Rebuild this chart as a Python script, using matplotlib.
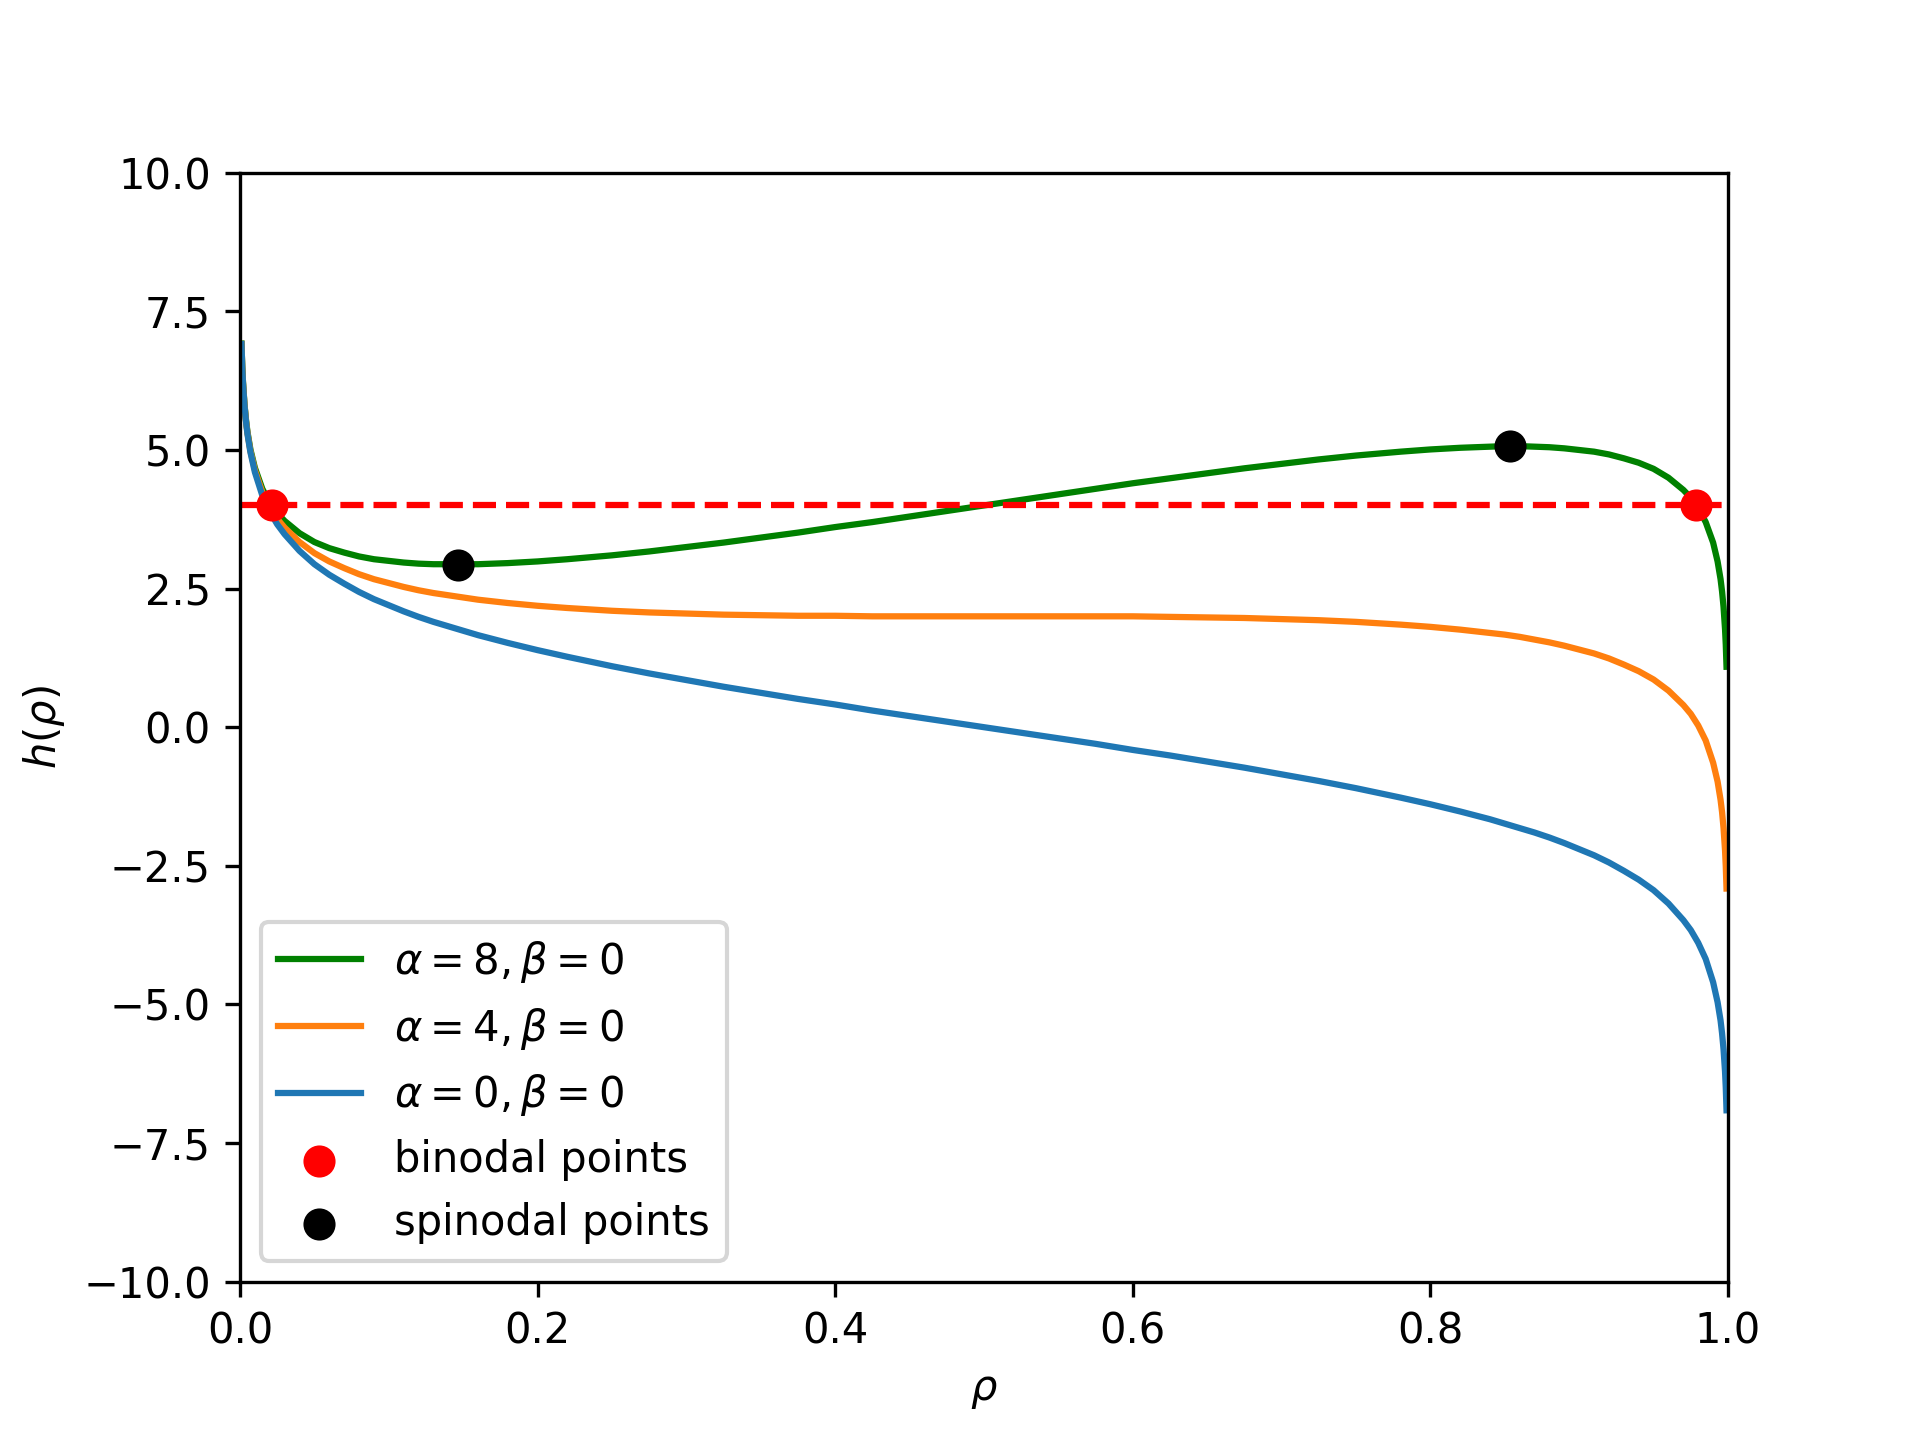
import numpy as np
import matplotlib.pyplot as plt

# valeurs
rho = [0.001, 0.0015, 0.002, 0.003, 0.004, 0.005, 0.007, 0.01, 0.015, 0.02,
       0.025, 0.03, 0.04, 0.05, 0.06, 0.07, 0.08, 0.09, 0.1, 0.11, 0.12,
       0.13, 0.14, 0.15, 0.16, 0.18, 0.2, 0.22, 0.25, 0.275, 0.3, 0.325,
       0.35, 0.375, 0.4, 0.425, 0.45, 0.475, 0.5, 0.525, 0.55, 0.575, 0.6,
       0.625, 0.65, 0.675, 0.7, 0.725, 0.75, 0.78, 0.8, 0.82, 0.84, 0.85,
       0.86, 0.87, 0.88, 0.89, 0.9, 0.91, 0.92, 0.93, 0.94, 0.95, 0.96,
       0.97, 0.975, 0.98, 0.985, 0.99, 0.993, 0.995, 0.996, 0.997, 0.998,
       0.9985, 0.999]

h_a8 = [6.92, 6.51, 6.23, 5.83, 5.55, 5.33, 5.01, 4.68, 4.30, 4.05,
        3.86, 3.72, 3.50, 3.34, 3.23, 3.15, 3.08, 3.03, 3.00, 2.97, 2.95,
        2.94, 2.94, 2.94, 2.94, 2.96, 2.99, 3.03, 3.10, 3.17, 3.25, 3.33,
        3.42, 3.51, 3.61, 3.70, 3.80, 3.90, 4.00, 4.10, 4.20, 4.30, 4.40,
        4.49, 4.58, 4.67, 4.75, 4.83, 4.90, 4.97, 5.01, 5.04, 5.06, 5.07,
        5.07, 5.06, 5.05, 5.03, 5.00, 4.97, 4.92, 4.85, 4.77, 4.66, 4.50,
        4.28, 4.14, 3.95, 3.70, 3.33, 2.99, 2.67, 2.45, 2.17, 1.77,
        1.49, 1.09]

h_a4 = [6.91, 6.51, 6.22, 5.82, 5.53, 5.31, 4.98, 4.64, 4.24, 3.97,
        3.76, 3.60, 3.34, 3.14, 2.99, 2.87, 2.76, 2.67, 2.60, 2.53, 2.47,
        2.42, 2.38, 2.34, 2.30, 2.24, 2.19, 2.15, 2.10, 2.07, 2.05, 2.03,
        2.02, 2.01, 2.01, 2.00, 2.00, 2.00, 2.00, 2.00, 2.00, 2.00, 2.00,
        1.99, 1.98, 1.97, 1.95, 1.93, 1.90, 1.85, 1.81, 1.76, 1.70, 1.67,
        1.63, 1.58, 1.53, 1.47, 1.40, 1.33, 1.24, 1.13, 1.01, 0.86, 0.66,
        0.40, 0.24, 0.03, -0.24, -0.64, -0.98, -1.31, -1.53, -1.82, -2.22,
        -2.51, -2.91]

h_a0 = [6.91, 6.50, 6.21, 5.81, 5.52, 5.29, 4.96, 4.60, 4.18, 3.89,
        3.66, 3.48, 3.18, 2.94, 2.75, 2.59, 2.44, 2.31, 2.20, 2.09, 1.99,
        1.90, 1.82, 1.74, 1.66, 1.52, 1.39, 1.27, 1.10, 0.97, 0.85, 0.73,
        0.62, 0.51, 0.41, 0.30, 0.20, 0.10, 0.00, -0.10, -0.20, -0.30, -0.41,
        -0.51, -0.62, -0.73, -0.85, -0.97, -1.10, -1.27, -1.39, -1.52, -1.66, -1.74,
        -1.82, -1.90, -1.99, -2.09, -2.20, -2.31, -2.44, -2.59, -2.75, -2.94, -3.18,
        -3.48, -3.66, -3.89, -4.18, -4.60, -4.96, -5.29, -5.52, -5.81, -6.21,
        -6.50, -6.91]

h_bin = 4.0
rho_binodal = [0.0213, 0.9787]
rho_spinodal = [0.1464, 0.8536]
h_spinodal = [2.93, 5.07]

labels = [r"$\alpha=8,\beta=0$", r"$\alpha=4,\beta=0$", r"$\alpha=0,\beta=0$"]

# =========================
# PLOT
# =========================

plt.figure(figsize=(6.4, 4.8))

plt.plot(rho, h_a8, color="green", label=labels[0])
plt.plot(rho, h_a4, color="tab:orange", label=labels[1])
plt.plot(rho, h_a0, color="tab:blue", label=labels[2])

plt.plot([rho[0], rho[-1]], [h_bin, h_bin], "r--")
plt.scatter(rho_binodal, [h_bin, h_bin], color="red", s=45, zorder=3, label="binodal points")
plt.scatter(rho_spinodal, h_spinodal, color="black", s=45, zorder=3, label="spinodal points")

plt.xlim(0, 1)
plt.ylim(-10, 10)
plt.xlabel(r"$\rho$")
plt.ylabel(r"$h(\rho)$")
plt.legend(loc="lower left")

plt.savefig("out.png", dpi=300)
